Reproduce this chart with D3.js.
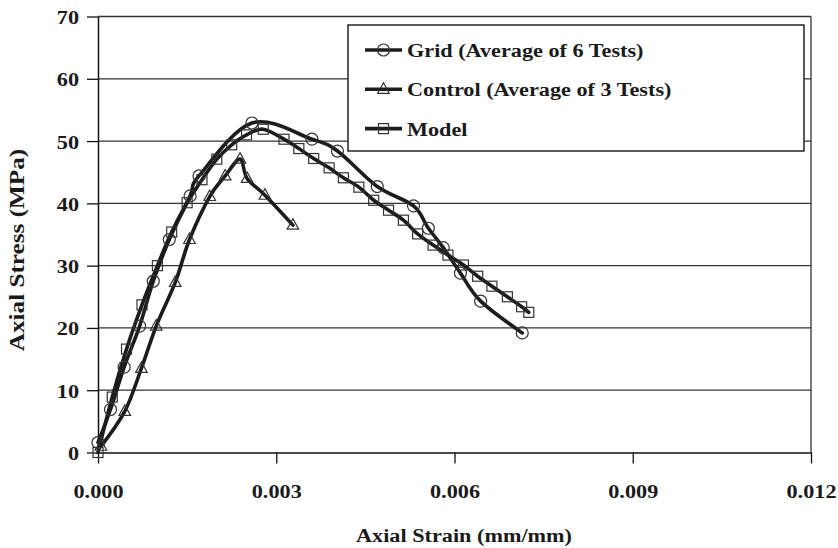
<!DOCTYPE html>
<html>
<head>
<meta charset="utf-8">
<script src="https://cdn.jsdelivr.net/npm/d3@7"></script>
<style>
  body { margin: 0; background: #fff; }
  svg { display: block; }
  text { font-family: "Liberation Serif", "Times New Roman", serif; font-weight: bold; fill: #1a1a1a; }
</style>
</head>
<body>
<div id="chart"></div>
<script>
// data (strain in mm/mm, stress in MPa)
var gridStrain = [0, 0.00021, 0.00044, 0.0007, 0.00093, 0.0012, 0.00155, 0.0017, 0.00259, 0.0036, 0.00403, 0.0047, 0.00531, 0.00556, 0.00581, 0.0061, 0.00644, 0.00714];
var gridStress = [1.6, 6.9, 13.7, 20.3, 27.5, 34.2, 41.2, 44.4, 52.9, 50.3, 48.4, 42.7, 39.6, 36.0, 32.9, 28.8, 24.3, 19.2];

var controlStrain = [0.00005, 0.00045, 0.00073, 0.00098, 0.0013, 0.00154, 0.00188, 0.00214, 0.00239, 0.00251, 0.00281, 0.00328];
var controlStress = [1.0, 6.6, 13.5, 20.3, 27.3, 34.2, 41.1, 44.4, 47.1, 44.0, 41.3, 36.5];

var modelStrain = [0, 0.00024, 0.00048, 0.00074, 0.001, 0.00124, 0.0015, 0.00175, 0.002, 0.00225, 0.0025, 0.00278, 0.00313, 0.00338, 0.00363, 0.00389, 0.00413, 0.00439, 0.00464, 0.00489, 0.00514, 0.00538, 0.00564, 0.00589, 0.00615, 0.00639, 0.00663, 0.00689, 0.00713, 0.00725];
var modelStress = [0, 8.9, 16.6, 23.7, 30.0, 35.4, 40.1, 43.8, 47.1, 49.4, 51.0, 51.9, 50.3, 48.8, 47.2, 45.7, 44.1, 42.6, 40.5, 38.9, 37.3, 35.1, 33.3, 31.7, 30.1, 28.3, 26.7, 25.0, 23.4, 22.5];

var xTicks = [0, 0.003, 0.006, 0.009, 0.012];
var yTicks = [0, 10, 20, 30, 40, 50, 60, 70];

var seriesNames = ["Grid (Average of 6 Tests)", "Control (Average of 3 Tests)", "Model"];
var seriesMarks = ["circle", "triangle", "square"];

var svgWidth = 838;
var svgHeight = 548;

var margin = { top: 16.5, right: 27, bottom: 95.5, left: 98 };
var width = svgWidth - margin.left - margin.right;
var height = svgHeight - margin.top - margin.bottom;

// text in the picture is a little wider than the font
var stretch = 1.14;
var fontSize = 19.5;
var serif = "Liberation Serif, Times New Roman, serif";

var svg = d3.select("#chart")
  .append("svg")
  .attr("width", svgWidth)
  .attr("height", svgHeight);

var chartGroup = svg.append("g")
  .attr("transform", `translate(${margin.left}, ${margin.top})`);

var xScale = d3.scaleLinear().domain([0, 0.012]).range([0, width]);
var yScale = d3.scaleLinear().domain([0, 70]).range([height, 0]);

// gridlines
chartGroup.append("g")
  .selectAll("line")
  .data(yTicks.filter(d => d > 0))
  .enter()
  .append("line")
  .attr("x1", 0)
  .attr("x2", width)
  .attr("y1", d => yScale(d))
  .attr("y2", d => yScale(d))
  .attr("stroke", "#333")
  .attr("stroke-width", 1.3);

// right border
chartGroup.append("line")
  .attr("x1", width).attr("x2", width)
  .attr("y1", 0).attr("y2", height)
  .attr("stroke", "#333")
  .attr("stroke-width", 1.3);

// axes
var bottomAxis = d3.axisBottom(xScale)
  .tickValues(xTicks)
  .tickSizeInner(11)
  .tickSizeOuter(0)
  .tickFormat(d3.format(".3f"));

var leftAxis = d3.axisLeft(yScale)
  .tickValues(yTicks)
  .tickSizeInner(11)
  .tickSizeOuter(0)
  .tickFormat(d3.format("d"));

var xAxis = chartGroup.append("g")
  .attr("transform", `translate(0, ${height})`)
  .call(bottomAxis);

var yAxis = chartGroup.append("g")
  .call(leftAxis);

[xAxis, yAxis].forEach(function(ax) {
  ax.attr("font-family", serif);
  ax.select(".domain").attr("stroke", "#111").attr("stroke-width", 1.5);
  ax.selectAll(".tick line").attr("stroke", "#111").attr("stroke-width", 1.3);
  ax.selectAll(".tick text")
    .attr("font-family", serif)
    .style("font-size", fontSize + "px")
    .attr("fill", "#1a1a1a");
});

xAxis.selectAll(".tick text")
  .attr("y", null)
  .attr("dy", null)
  .attr("transform", `translate(0, 45.5) scale(${stretch}, 1)`);

yAxis.selectAll(".tick text")
  .attr("x", null)
  .attr("dy", null)
  .attr("transform", `translate(-19, 7) scale(${stretch}, 1)`);

// series lines
var line = d3.line()
  .x(d => xScale(d[0]))
  .y(d => yScale(d[1]))
  .curve(d3.curveCardinal.tension(0));

var allSeries = [
  d3.zip(gridStrain, gridStress),
  d3.zip(controlStrain, controlStress),
  d3.zip(modelStrain, modelStress)
];

allSeries.forEach(function(data) {
  chartGroup.append("path")
    .datum(data)
    .attr("d", line)
    .attr("fill", "none")
    .attr("stroke", "#1c1c1c")
    .attr("stroke-width", 3.6)
    .attr("stroke-linejoin", "round")
    .attr("stroke-linecap", "round");
});

// marker drawing
function drawMarker(g, kind, cx, cy) {
  if (kind === "circle") {
    g.append("circle")
      .attr("cx", cx).attr("cy", cy).attr("r", 6)
      .attr("fill", "none").attr("stroke", "#333").attr("stroke-width", 1.2);
  } else if (kind === "triangle") {
    g.append("path")
      .attr("d", `M${cx},${cy - 6.5} L${cx + 5.8},${cy + 4} L${cx - 5.8},${cy + 4} Z`)
      .attr("fill", "none").attr("stroke", "#333").attr("stroke-width", 1.2);
  } else {
    g.append("rect")
      .attr("x", cx - 5).attr("y", cy - 5).attr("width", 10).attr("height", 10)
      .attr("fill", "none").attr("stroke", "#333").attr("stroke-width", 1.2);
  }
}

var markerGroup = chartGroup.append("g");
allSeries.forEach(function(data, i) {
  data.forEach(function(d) {
    drawMarker(markerGroup, seriesMarks[i], xScale(d[0]), yScale(d[1]));
  });
});

// legend
var legend = svg.append("g");
legend.append("rect")
  .attr("x", 348).attr("y", 25)
  .attr("width", 456).attr("height", 126)
  .attr("fill", "#fff")
  .attr("stroke", "#222")
  .attr("stroke-width", 1.5);

seriesNames.forEach(function(name, i) {
  var ly = 50 + i * 39.3;
  legend.append("line")
    .attr("x1", 365).attr("x2", 402)
    .attr("y1", ly).attr("y2", ly)
    .attr("stroke", "#1c1c1c")
    .attr("stroke-width", 3.6);
  drawMarker(legend, seriesMarks[i], 383.5, ly);
  legend.append("text")
    .attr("transform", `translate(407, ${ly + 7}) scale(${stretch}, 1)`)
    .attr("font-family", serif)
    .style("font-size", fontSize + "px")
    .text(name);
});

// axis titles
svg.append("text")
  .attr("transform", `translate(464, 542) scale(${stretch}, 1)`)
  .attr("text-anchor", "middle")
  .attr("font-family", serif)
  .style("font-size", fontSize + "px")
  .text("Axial Strain (mm/mm)");

svg.append("text")
  .attr("transform", "translate(24, 250) rotate(-90) scale(1.2, 1.0)")
  .attr("text-anchor", "middle")
  .attr("font-family", serif)
  .style("font-size", "21px")
  .text("Axial Stress (MPa)");
</script>
</body>
</html>
